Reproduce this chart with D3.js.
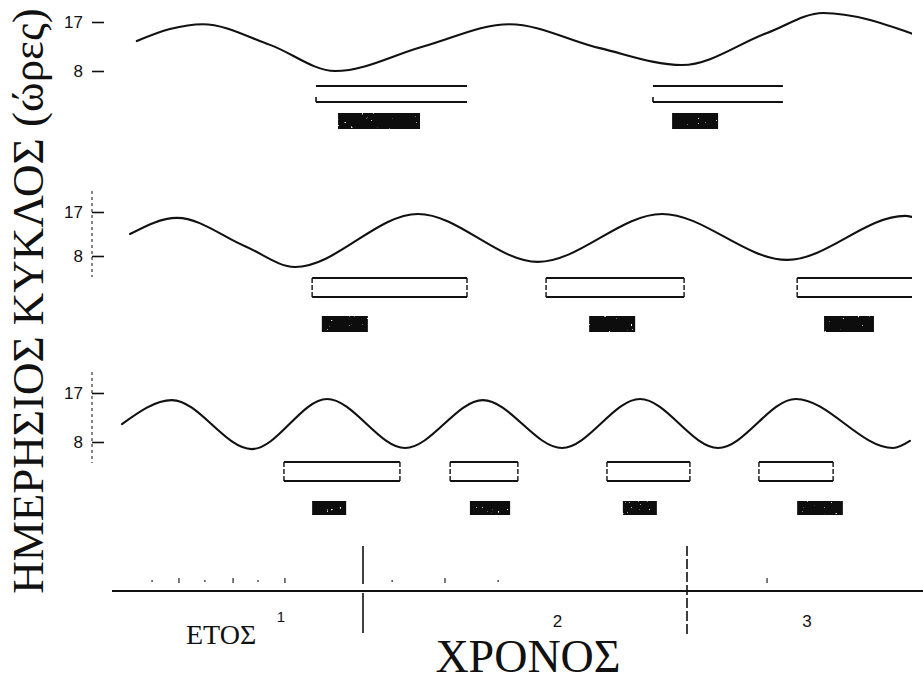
<!DOCTYPE html>
<html>
<head>
<meta charset="utf-8">
<script src="https://cdn.jsdelivr.net/npm/d3@7/dist/d3.min.js"></script>
<style>
  html, body { margin: 0; padding: 0; background: #fff; }
  svg { display: block; }
</style>
</head>
<body>
<svg id="chart" width="923" height="681"></svg>
<script>
// ---- data (time in years from the start of year 1, day length in hours) ----
const yearLabels = ["1", "2", "3"];
const hourTicks = [8, 17];
const monthMarks = [0.349, 0.432, 0.512, 0.599, 0.676, 0.759, 1.090, 1.253, 1.417, 2.247];

// daily cycle (photoperiod) for the three regimes
const cycleA = [[0.302, 13.5], [0.404, 15.7], [0.505, 16.6], [0.713, 12.8], [0.914, 8.0],
                [1.191, 12.6], [1.452, 16.6], [1.731, 12.2], [1.985, 9.1], [2.247, 15.0],
                [2.420, 18.65], [2.698, 14.8]];
const cycleB = [[0.281, 12.5], [0.426, 15.8], [0.636, 10.0], [0.790, 5.75],
                [1.170, 16.6], [1.540, 6.8], [1.923, 16.6], [2.309, 7.2], [2.673, 16.2],
                [2.694, 16.0]];
const cycleC = [[0.256, 11.3], [0.410, 15.7], [0.657, 6.7], [0.889, 15.9], [1.130, 6.9],
                [1.370, 15.7], [1.614, 6.9], [1.855, 15.9], [2.096, 6.9], [2.336, 15.9],
                [2.636, 6.9], [2.688, 8.2]];

// open bars: [start, end] in years
const spansA = [[0.855, 1.321], [1.895, 2.296]];
const spansB = [[0.843, 1.321], [1.565, 1.991], [2.340, 2.750]];
const spansC = [[0.756, 1.114], [1.269, 1.478], [1.753, 2.009], [2.222, 2.451]];

// filled blocks: [start, end] in years
const blocksA = [[0.923, 1.176], [1.954, 2.096]];
const blocksB = [[0.873, 1.015], [1.698, 1.840], [2.423, 2.577]];
const blocksC = [[0.843, 0.948], [1.330, 1.454], [1.802, 1.907], [2.340, 2.481]];

// ---- drawing ----
const svg = d3.select("#chart");
const INK = "#111";
const SERIF = "'Liberation Serif', 'DejaVu Serif', serif";
const SANS = "'Liberation Sans', Arial, sans-serif";

const x = d3.scaleLinear().domain([0, 3]).range([39, 1011]);

const defs = svg.append("defs");
defs.append("clipPath").attr("id", "plotClip")
  .append("rect").attr("x", 100).attr("y", 0).attr("width", 812).attr("height", 681);

// grainy fill for the solid blocks: sparse light specks on black
const speck = defs.append("filter").attr("id", "speck")
  .attr("x", 0).attr("y", 0).attr("width", "100%").attr("height", "100%");
speck.append("feTurbulence").attr("type", "fractalNoise").attr("baseFrequency", 0.45)
  .attr("numOctaves", 1).attr("seed", 7).attr("result", "noise");
speck.append("feColorMatrix").attr("in", "noise").attr("type", "matrix")
  .attr("values", "0 0 0 0 1  0 0 0 0 1  0 0 0 0 1  16 0 0 0 -11.4").attr("result", "white");
speck.append("feComposite").attr("in", "white").attr("in2", "SourceGraphic").attr("operator", "atop");

const panels = [
  { cycle: cycleA, spans: spansA, blocks: blocksA, y17: 22, y8: 71, barTop: 86, barH: 16, blockTop: 113, blockH: 16, ends: false, spine: false },
  { cycle: cycleB, spans: spansB, blocks: blocksB, y17: 212, y8: 256, barTop: 278, barH: 19, blockTop: 316, blockH: 16, ends: true, spine: true },
  { cycle: cycleC, spans: spansC, blocks: blocksC, y17: 393, y8: 442, barTop: 462, barH: 19, blockTop: 501, blockH: 14, ends: true, spine: true }
];

const axisX = 92;

panels.forEach(p => {
  const y = d3.scaleLinear().domain([8, 17]).range([p.y8, p.y17]);
  const g = svg.append("g");

  // hour axis
  if (p.spine) {
    g.append("line")
      .attr("x1", axisX).attr("x2", axisX)
      .attr("y1", y(17) - 21).attr("y2", y(8) + 21)
      .attr("stroke", "#444").attr("stroke-width", 1.3).attr("stroke-dasharray", "3,3");
  }
  const ax = g.append("g")
    .attr("transform", `translate(${axisX},0)`)
    .call(d3.axisLeft(y).tickValues(hourTicks).tickSize(-12).tickPadding(9).tickFormat(d3.format("d")));
  ax.select(".domain").remove();
  ax.selectAll(".tick line").attr("stroke", INK).attr("stroke-width", 1.6);
  ax.selectAll(".tick text").attr("fill", INK).style("font-family", SANS).style("font-size", "17px");

  const plot = g.append("g").attr("clip-path", "url(#plotClip)");

  // day-length curve
  plot.append("path")
    .datum(p.cycle)
    .attr("fill", "none").attr("stroke", INK).attr("stroke-width", 2.1)
    .attr("stroke-linejoin", "round").attr("stroke-linecap", "round")
    .attr("d", d3.line().x(d => x(d[0])).y(d => y(d[1])).curve(d3.curveMonotoneX));

  // open bars
  const bar = plot.selectAll(".span").data(p.spans).join("g").attr("class", "span");
  bar.append("line").attr("x1", d => x(d[0])).attr("x2", d => x(d[1]))
    .attr("y1", p.barTop).attr("y2", p.barTop).attr("stroke", INK).attr("stroke-width", 2);
  bar.append("line").attr("x1", d => x(d[0])).attr("x2", d => x(d[1]))
    .attr("y1", p.barTop + p.barH).attr("y2", p.barTop + p.barH).attr("stroke", INK).attr("stroke-width", 2);
  if (p.ends) {
    [0, 1].forEach(k => {
      bar.append("line").attr("x1", d => x(d[k])).attr("x2", d => x(d[k]))
        .attr("y1", p.barTop).attr("y2", p.barTop + p.barH)
        .attr("stroke", INK).attr("stroke-width", 1.4).attr("stroke-dasharray", "5,2");
    });
  } else {
    bar.append("path")
      .attr("d", d => `M${x(d[0])},${p.barTop + p.barH - 5}L${x(d[0])},${p.barTop + p.barH}`)
      .attr("stroke", INK).attr("stroke-width", 1.6).attr("fill", "none");
  }

  // solid blocks
  plot.selectAll(".block").data(p.blocks).join("rect").attr("class", "block")
    .attr("x", d => x(d[0])).attr("width", d => x(d[1]) - x(d[0]))
    .attr("y", p.blockTop).attr("height", p.blockH)
    .attr("fill", "#111").attr("filter", "url(#speck)");
});

// ---- time axis ----
const axisY = 591;
const tg = svg.append("g");
tg.append("line").attr("x1", 112).attr("x2", 923).attr("y1", axisY).attr("y2", axisY)
  .attr("stroke", INK).attr("stroke-width", 2);

// month marks above the axis
tg.selectAll(".month").data(monthMarks).join("line").attr("class", "month")
  .attr("x1", d => x(d)).attr("x2", d => x(d))
  .attr("y1", (d, i) => axisY - (i % 2 ? 13 : 11)).attr("y2", (d, i) => axisY - (i % 2 ? 8 : 9))
  .attr("stroke", "#333").attr("stroke-width", 1.3);

// year boundaries
const boundaryDash = ["38,9,40", "10,3"];
[1, 2].forEach((b, i) => {
  tg.append("line").attr("x1", x(b)).attr("x2", x(b))
    .attr("y1", 546).attr("y2", 635)
    .attr("stroke", INK).attr("stroke-width", 1.6).attr("stroke-dasharray", boundaryDash[i]);
});

// year labels
const yearLabelAt = [0.747, 1.60, 2.37];
tg.append("text").attr("x", 186).attr("y", 644)
  .style("font-family", SERIF).style("font-size", "28px").attr("fill", INK).text("ΕΤΟΣ");
tg.selectAll(".yl").data(yearLabels).join("text").attr("class", "yl")
  .attr("x", (d, i) => x(yearLabelAt[i]))
  .attr("y", (d, i) => i === 0 ? 622 : 627)
  .attr("text-anchor", "middle")
  .style("font-family", SANS).style("font-size", (d, i) => i === 0 ? "15px" : "17px")
  .attr("fill", INK).text(d => d);

// axis titles
svg.append("text").attr("x", 528).attr("y", 672).attr("text-anchor", "middle")
  .style("font-family", SERIF).style("font-size", "46px").attr("fill", INK).text("ΧΡΟΝΟΣ");

svg.append("text")
  .attr("transform", "translate(43,301) rotate(-90)")
  .attr("text-anchor", "middle")
  .style("font-family", SERIF).style("font-size", "45px").attr("fill", INK)
  .text("ΗΜΕΡΗΣΙΟΣ ΚΥΚΛΟΣ (ώρες)");
</script>
</body>
</html>
